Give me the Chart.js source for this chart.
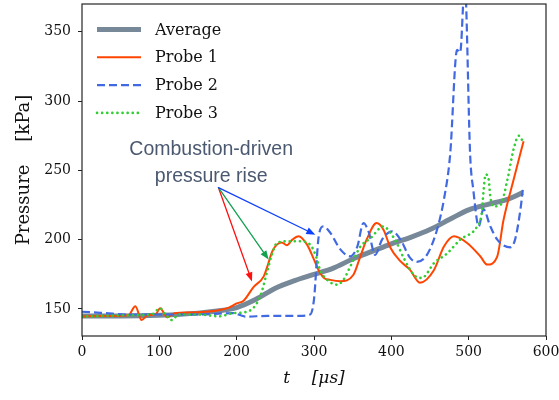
<!DOCTYPE html>
<html>
<head>
<meta charset="utf-8">
<script src="https://cdn.jsdelivr.net/npm/chart.js@4.4.1/dist/chart.umd.min.js"></script>
<style>
  html, body { margin: 0; padding: 0; background: #fff; }
  #wrap { width: 559px; height: 400px; }
</style>
</head>
<body>
<div id="wrap"><canvas id="chart" width="559" height="400"></canvas></div>
<script>
// values
const avgX = [0, 50, 100, 150, 175, 200, 225, 250, 275, 300, 325, 350, 375, 400, 425, 450, 475, 500, 525, 550, 570];
const avgY = [145, 145, 145.5, 147, 148.5, 151, 157, 165, 170.5, 175, 179.5, 186, 191.5, 197, 201.7, 207.3, 214.5, 221.5, 225.5, 229, 234];

const probe1X = [0, 20, 40, 60, 69, 77, 85, 95, 101, 110, 120, 140, 160, 180, 190, 200, 209, 222, 235, 241, 246, 252, 258, 265, 272, 280, 291, 300, 306, 313, 321, 334, 351, 360, 368, 381, 390, 399, 412, 424, 437, 455, 468, 481, 498, 515, 524, 537, 545, 558, 571];
const probe1Y = [144.5, 145, 145, 145.5, 152, 142, 145.5, 146, 150.5, 144, 147, 147.5, 148, 149.5, 151, 154, 156, 166, 173.5, 183, 191.5, 196.4, 198, 196, 200, 202.5, 196.4, 185.6, 178, 172.4, 171, 170, 174.7, 188, 200, 212, 207, 194, 184.3, 178.4, 169, 178, 195, 202.4, 197.6, 188, 182, 188, 214, 243, 271];

const probe2X = [0, 30, 60, 100, 150, 196, 211, 240, 280, 295, 300, 306, 312, 321, 334, 347, 356, 364, 371, 379, 388, 401, 412, 424, 433, 446, 459, 468, 476, 485, 489, 495, 502, 506, 513, 519, 528, 537, 554, 560, 567, 570];
const probe2Y = [148, 147, 146, 146, 146, 147, 144.5, 145, 145, 146, 157, 202, 209.6, 205, 193, 188, 195, 212, 205, 189, 200, 206, 200, 187, 184, 189, 207, 229, 261, 337, 335, 385, 260, 236, 209.6, 222, 209.6, 200, 194.5, 200, 222, 236];

const probe3X = [0, 30, 60, 90, 101, 108, 116, 125, 150, 177, 196, 209, 222, 231, 239, 246, 252, 265, 282, 295, 302, 308, 317, 330, 338, 349, 360, 373, 390, 399, 407, 416, 429, 437, 442, 455, 472, 489, 511, 517, 519, 522, 526, 528, 532, 541, 550, 558, 565, 569];
const probe3Y = [144.5, 145, 145.5, 146, 150.5, 146, 142, 146, 146, 144.7, 147, 147.5, 151, 160, 176, 190, 197.6, 198.8, 198.8, 196.4, 189, 178, 171, 167.5, 171, 183, 195, 201, 209.6, 204.8, 197.6, 186.8, 174.7, 172.4, 173, 183, 190, 200, 209.6, 219, 233.7, 247, 243, 231, 224, 225, 243, 265, 275, 272];

const seriesNames = ['Average', 'Probe 1', 'Probe 2', 'Probe 3'];
const yTicks = [150, 200, 250, 300, 350];
const xTicks = [0, 100, 200, 300, 400, 500, 600];

// annotation: text lines, arrow start, arrow tips (data coords)
const noteLines = ['Combustion-driven', 'pressure rise'];
const noteTextAt = [167, 265, 245.8];
const arrowFrom = [176.5, 237.5];
const arrowTips = [[219.8, 169.9], [241.3, 185.6], [301.7, 203.6]];
const arrowColors = ['#ff1010', '#13a150', '#1040ff'];

const colors = ['#778899', '#ff4500', '#4169e1', '#32cd32'];
const widths = [5, 2, 2.2, 2.6];
const dashes = [[], [], [8, 4], [0.1, 5]];

function pts(xs, ys) {
  return xs.map((x, i) => ({ x: x, y: ys[i] }));
}

const serif = "'DejaVu Serif', serif";

const extras = {
  id: 'extras',
  afterDatasetsDraw(chart) {
    const ctx = chart.ctx;
    const a = chart.chartArea;
    const xs = chart.scales.x, ys = chart.scales.y;
    ctx.save();

    // frame
    ctx.strokeStyle = '#262626';
    ctx.lineWidth = 1.2;
    ctx.strokeRect(a.left, a.top, a.right - a.left, a.bottom - a.top);

    // legend
    ctx.font = '16px ' + serif;
    ctx.textBaseline = 'middle';
    ctx.textAlign = 'left';
    seriesNames.forEach((name, i) => {
      const y = 29.5 + i * 27.8;
      ctx.beginPath();
      ctx.strokeStyle = colors[i];
      ctx.lineWidth = widths[i];
      ctx.lineCap = i === 3 ? 'round' : 'butt';
      ctx.setLineDash(dashes[i]);
      ctx.moveTo(97, y);
      ctx.lineTo(141, y);
      ctx.stroke();
      ctx.setLineDash([]);
      ctx.fillStyle = '#111';
      ctx.fillText(name, 155, y + 1);
    });

    // annotation text
    ctx.font = '19.5px "Liberation Sans", Arial, sans-serif';
    ctx.fillStyle = '#4a5870';
    ctx.textAlign = 'center';
    const tx = xs.getPixelForValue(noteTextAt[0]);
    ctx.fillText(noteLines[0], tx, ys.getPixelForValue(noteTextAt[1]));
    ctx.fillText(noteLines[1], tx, ys.getPixelForValue(noteTextAt[2]));

    // arrows
    const fx = xs.getPixelForValue(arrowFrom[0]);
    const fy = ys.getPixelForValue(arrowFrom[1]);
    arrowTips.forEach((t, i) => {
      const ex = xs.getPixelForValue(t[0]);
      const ey = ys.getPixelForValue(t[1]);
      const ang = Math.atan2(ey - fy, ex - fx);
      const hl = 9, hw = 3.5;
      const bx = ex - hl * Math.cos(ang), by = ey - hl * Math.sin(ang);
      ctx.strokeStyle = arrowColors[i];
      ctx.fillStyle = arrowColors[i];
      ctx.lineWidth = 1.3;
      ctx.beginPath();
      ctx.moveTo(fx, fy);
      ctx.lineTo(bx, by);
      ctx.stroke();
      ctx.beginPath();
      ctx.moveTo(ex, ey);
      ctx.lineTo(bx + hw * Math.sin(ang), by - hw * Math.cos(ang));
      ctx.lineTo(bx - hw * Math.sin(ang), by + hw * Math.cos(ang));
      ctx.closePath();
      ctx.fill();
    });
    ctx.restore();
  }
};

const lineData = [pts(avgX, avgY), pts(probe1X, probe1Y), pts(probe2X, probe2Y), pts(probe3X, probe3Y)];

new Chart(document.getElementById('chart'), {
  type: 'line',
  data: {
    datasets: seriesNames.map((name, i) => ({
      label: name,
      data: lineData[i],
      borderColor: colors[i],
      borderWidth: widths[i],
      borderDash: dashes[i],
      borderCapStyle: i === 3 ? 'round' : 'butt',
      pointRadius: 0,
      fill: false,
      cubicInterpolationMode: 'monotone',
      order: 4 - i
    }))
  },
  options: {
    responsive: false,
    animation: false,
    layout: { padding: { top: 4, right: 13, left: 0, bottom: 0 } },
    plugins: { legend: { display: false }, tooltip: { enabled: false } },
    scales: {
      x: {
        type: 'linear',
        min: 0,
        max: 600,
        afterBuildTicks: s => { s.ticks = xTicks.map(v => ({ value: v })); },
        afterFit: s => { s.height = 64; s.paddingLeft = 0; s.paddingRight = 0; },
        border: { display: false },
        grid: { drawOnChartArea: false, tickLength: 4, color: '#222', tickWidth: 1 },
        ticks: { color: '#111', padding: 4, maxRotation: 0, font: { family: serif, size: 14 } },
        title: {
          display: true,
          text: 't    [μs]',
          color: '#111',
          padding: { top: 0, bottom: 11 },
          font: { family: serif, size: 17, style: 'italic' }
        }
      },
      y: {
        min: 130.5,
        max: 370,
        afterBuildTicks: s => { s.ticks = yTicks.map(v => ({ value: v })); },
        afterFit: s => { s.width = 82; s.paddingTop = 0; s.paddingBottom = 0; },
        border: { display: false },
        grid: { drawOnChartArea: false, tickLength: 4, color: '#222', tickWidth: 1 },
        ticks: { color: '#111', padding: 7, font: { family: serif, size: 14 } },
        title: {
          display: true,
          text: 'Pressure    [kPa]',
          color: '#111',
          padding: { top: 14, bottom: 0 },
          font: { family: serif, size: 18 }
        }
      }
    }
  },
  plugins: [extras]
});
</script>
</body>
</html>
